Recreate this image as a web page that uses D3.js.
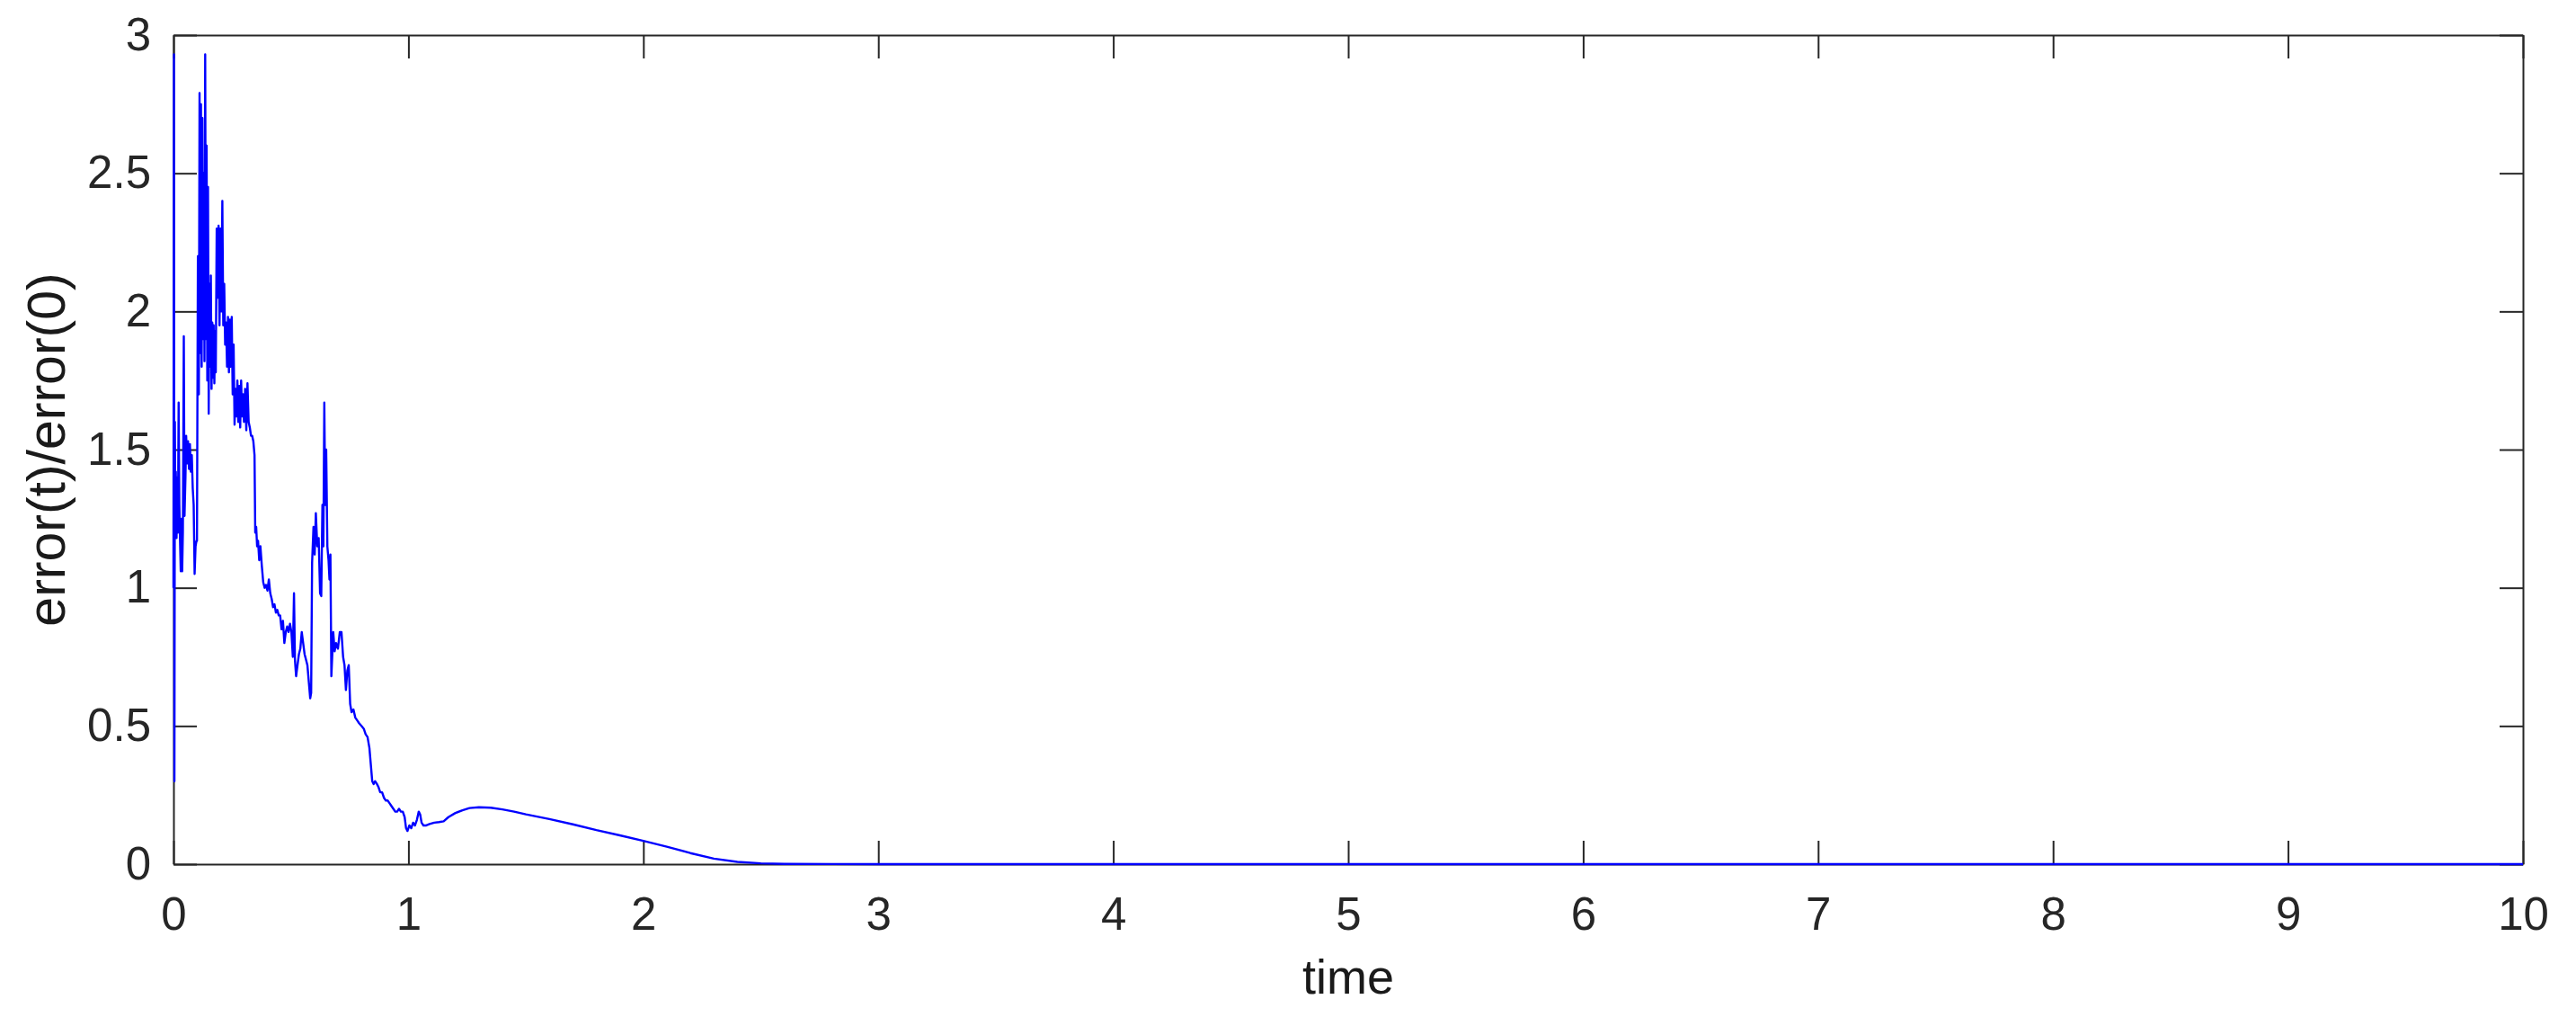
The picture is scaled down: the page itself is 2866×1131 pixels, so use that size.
<!DOCTYPE html>
<html>
<head>
<meta charset="utf-8">
<script src="https://cdn.jsdelivr.net/npm/d3@7"></script>
<style>
  body { margin: 0; background: #ffffff; }
  svg { display: block; }
</style>
</head>
<body>
<div id="chart"></div>
<script>
"use strict"

// time samples (s)
const times = [
  0.000, 0.002, 0.004, 0.006, 0.008, 0.010, 0.013, 0.016, 0.019, 0.022,
  0.025, 0.028, 0.031, 0.034, 0.037, 0.040, 0.044, 0.047, 0.051, 0.054,
  0.058, 0.062, 0.066, 0.070, 0.074, 0.078, 0.082, 0.086, 0.090, 0.094,
  0.098, 0.100, 0.104, 0.108, 0.111, 0.114, 0.117, 0.120, 0.123, 0.126,
  0.129, 0.132, 0.135, 0.138, 0.141, 0.144, 0.147, 0.150, 0.153, 0.156,
  0.159, 0.162, 0.165, 0.168, 0.171, 0.174, 0.177, 0.180, 0.184, 0.188,
  0.192, 0.196, 0.200, 0.204, 0.208, 0.212, 0.216, 0.220, 0.224, 0.228,
  0.232, 0.236, 0.240, 0.244, 0.248, 0.252, 0.256, 0.260, 0.264, 0.268,
  0.272, 0.276, 0.280, 0.284, 0.288, 0.292, 0.296, 0.300, 0.305, 0.310,
  0.315, 0.320, 0.325, 0.330, 0.335, 0.340, 0.345, 0.348, 0.352, 0.356,
  0.360, 0.365, 0.370, 0.376, 0.382, 0.388, 0.394, 0.400, 0.406, 0.412,
  0.418, 0.424, 0.430, 0.436, 0.442, 0.448, 0.454, 0.460, 0.466, 0.472,
  0.478, 0.484, 0.490, 0.496, 0.502, 0.508, 0.513, 0.517, 0.522, 0.528,
  0.534, 0.540, 0.546, 0.552, 0.558, 0.564, 0.570, 0.576, 0.582, 0.586,
  0.590, 0.596, 0.601, 0.606, 0.612, 0.618, 0.624, 0.629, 0.634, 0.638,
  0.642, 0.646, 0.650, 0.655, 0.660, 0.664, 0.668, 0.672, 0.680, 0.686,
  0.692, 0.700, 0.708, 0.715, 0.722, 0.728, 0.734, 0.740, 0.746, 0.752,
  0.758, 0.766, 0.774, 0.782, 0.790, 0.800, 0.810, 0.818, 0.826, 0.834,
  0.840, 0.846, 0.852, 0.858, 0.866, 0.872, 0.880, 0.888, 0.896, 0.904,
  0.912, 0.920, 0.928, 0.936, 0.944, 0.952, 0.960, 0.968, 0.976, 0.984,
  0.990, 0.996, 1.004, 1.012, 1.020, 1.028, 1.036, 1.044, 1.050, 1.056,
  1.064, 1.076, 1.090, 1.110, 1.130, 1.150, 1.170, 1.200, 1.230, 1.260,
  1.300, 1.350, 1.400, 1.450, 1.500, 1.600, 1.700, 1.800, 1.900, 2.000,
  2.100, 2.200, 2.300, 2.400, 2.500, 2.600, 2.800, 3.000, 4.000, 5.000,
  6.000, 7.000, 8.000, 9.000, 10.000
];

// error(t)/error(0) at each sample
const errorRatio = [
  1.00, 2.93, 0.30, 1.60, 1.20, 1.42, 1.18, 1.40, 1.20, 1.67,
  1.30, 1.17, 1.06, 1.25, 1.06, 1.20, 1.91, 1.26, 1.40, 1.55,
  1.45, 1.53, 1.43, 1.52, 1.42, 1.48, 1.36, 1.30, 1.05, 1.15,
  1.17, 1.17, 2.20, 1.70, 2.79, 1.85, 2.75, 1.80, 2.70, 1.90,
  2.50, 1.82, 2.93, 1.90, 2.60, 1.75, 2.45, 1.63, 2.10, 1.80,
  2.13, 1.72, 1.96, 1.76, 1.95, 1.74, 1.93, 1.78, 2.30, 2.05,
  2.31, 1.95, 2.30, 2.00, 2.40, 1.95, 2.10, 1.88, 1.96, 1.80,
  1.98, 1.78, 1.97, 1.80, 1.98, 1.70, 1.88, 1.59, 1.72, 1.62,
  1.75, 1.60, 1.73, 1.58, 1.75, 1.62, 1.70, 1.60, 1.72, 1.57,
  1.74, 1.60, 1.58, 1.55, 1.55, 1.53, 1.48, 1.20, 1.22, 1.15,
  1.17, 1.10, 1.15, 1.08, 1.02, 1.00, 1.01, 0.99, 1.03, 0.98,
  0.96, 0.93, 0.94, 0.91, 0.92, 0.90, 0.90, 0.85, 0.88, 0.80,
  0.84, 0.86, 0.84, 0.87, 0.84, 0.75, 0.98, 0.74, 0.68, 0.72,
  0.76, 0.78, 0.84, 0.80, 0.76, 0.74, 0.72, 0.66, 0.60, 0.62,
  1.09, 1.22, 1.12, 1.27, 1.15, 1.18, 0.98, 0.97, 1.30, 1.15,
  1.67, 1.30, 1.50, 1.15, 1.10, 1.03, 1.12, 0.68, 0.84, 0.77,
  0.80, 0.78, 0.84, 0.84, 0.75, 0.72, 0.63, 0.70, 0.72, 0.58,
  0.55, 0.56, 0.53, 0.52, 0.51, 0.50, 0.49, 0.47, 0.46, 0.42,
  0.36, 0.30, 0.29, 0.30, 0.29, 0.28, 0.26, 0.26, 0.24, 0.23,
  0.23, 0.22, 0.21, 0.20, 0.19, 0.19, 0.20, 0.19, 0.19, 0.17,
  0.13, 0.12, 0.14, 0.13, 0.15, 0.14, 0.16, 0.19, 0.18, 0.15,
  0.14, 0.14, 0.145, 0.15, 0.152, 0.155, 0.17, 0.185, 0.195, 0.203,
  0.206, 0.204, 0.198, 0.19, 0.18, 0.163, 0.144, 0.123, 0.104, 0.084,
  0.063, 0.040, 0.020, 0.008, 0.003, 0.001, 0.0005, 0.0002, 0.0001, 0.0001,
  0.0001, 0.0001, 0.0001, 0.0001, 0.0001
];

const xTicks = [0, 1, 2, 3, 4, 5, 6, 7, 8, 9, 10];
const yTicks = [0, 0.5, 1, 1.5, 2, 2.5, 3];
const xLabel = "time";
const yLabel = "error(t)/error(0)";

const width = 2866, height = 1131;
const margin = {left: 193, right: 59, top: 39, bottom: 170};
const axisColor = "#262626";
const tickLen = 26;

let svg = (
  d3.select("#chart")
    .append("svg")
    .attr("width", width)
    .attr("height", height));

let x = d3.scaleLinear().domain([0, 10]).range([margin.left, width - margin.right]);
let y = d3.scaleLinear().domain([0, 3]).range([height - margin.bottom, margin.top]);

let styleAxis = (g) => {
  g.attr("color", axisColor);
  g.select(".domain").attr("stroke-width", 2);
  g.selectAll(".tick line").attr("stroke-width", 2);
  g.selectAll(".tick text")
    .attr("font-family", "'Liberation Sans', Arial, sans-serif")
    .attr("font-size", 51)
    .attr("fill", axisColor);
};

// Draw bottom axis (ticks inside)
(svg.append("g")
  .attr("transform", `translate(0,${y(0)})`)
  .call(d3.axisBottom(x).tickValues(xTicks).tickFormat(d3.format("d"))
        .tickSizeInner(-tickLen).tickSizeOuter(0).tickPadding(37))
  .call(styleAxis));

// Draw top axis
(svg.append("g")
  .attr("transform", `translate(0,${y(3)})`)
  .call(d3.axisTop(x).tickValues(xTicks).tickFormat("")
        .tickSizeInner(-tickLen).tickSizeOuter(0))
  .call(styleAxis));

// Draw left axis
(svg.append("g")
  .attr("transform", `translate(${x(0)},0)`)
  .call(d3.axisLeft(y).tickValues(yTicks).tickFormat((d) => `${d}`)
        .tickSizeInner(-tickLen).tickSizeOuter(0).tickPadding(25))
  .call(styleAxis));

// Draw right axis
(svg.append("g")
  .attr("transform", `translate(${x(10)},0)`)
  .call(d3.axisRight(y).tickValues(yTicks).tickFormat("")
        .tickSizeInner(-tickLen).tickSizeOuter(0))
  .call(styleAxis));

// Draw the error curve
let line = d3.line()
  .x((d, i) => x(times[i]))
  .y((d) => y(d));

(svg.append("path")
  .datum(errorRatio)
  .attr("fill", "none")
  .attr("stroke", "#0000ff")
  .attr("stroke-width", 2.4)
  .attr("stroke-linejoin", "round")
  .attr("d", line));

// Draw axis labels
(svg.append("text")
  .attr("x", (x(0) + x(10)) / 2)
  .attr("y", 1105)
  .attr("text-anchor", "middle")
  .attr("font-family", "'Liberation Sans', Arial, sans-serif")
  .attr("font-size", 54)
  .attr("fill", "#1a1a1a")
  .text(xLabel));

(svg.append("text")
  .attr("transform", `translate(72,${(y(0) + y(3)) / 2}) rotate(-90)`)
  .attr("text-anchor", "middle")
  .attr("font-family", "'Liberation Sans', Arial, sans-serif")
  .attr("font-size", 59)
  .attr("fill", "#1a1a1a")
  .text(yLabel));
</script>
</body>
</html>
